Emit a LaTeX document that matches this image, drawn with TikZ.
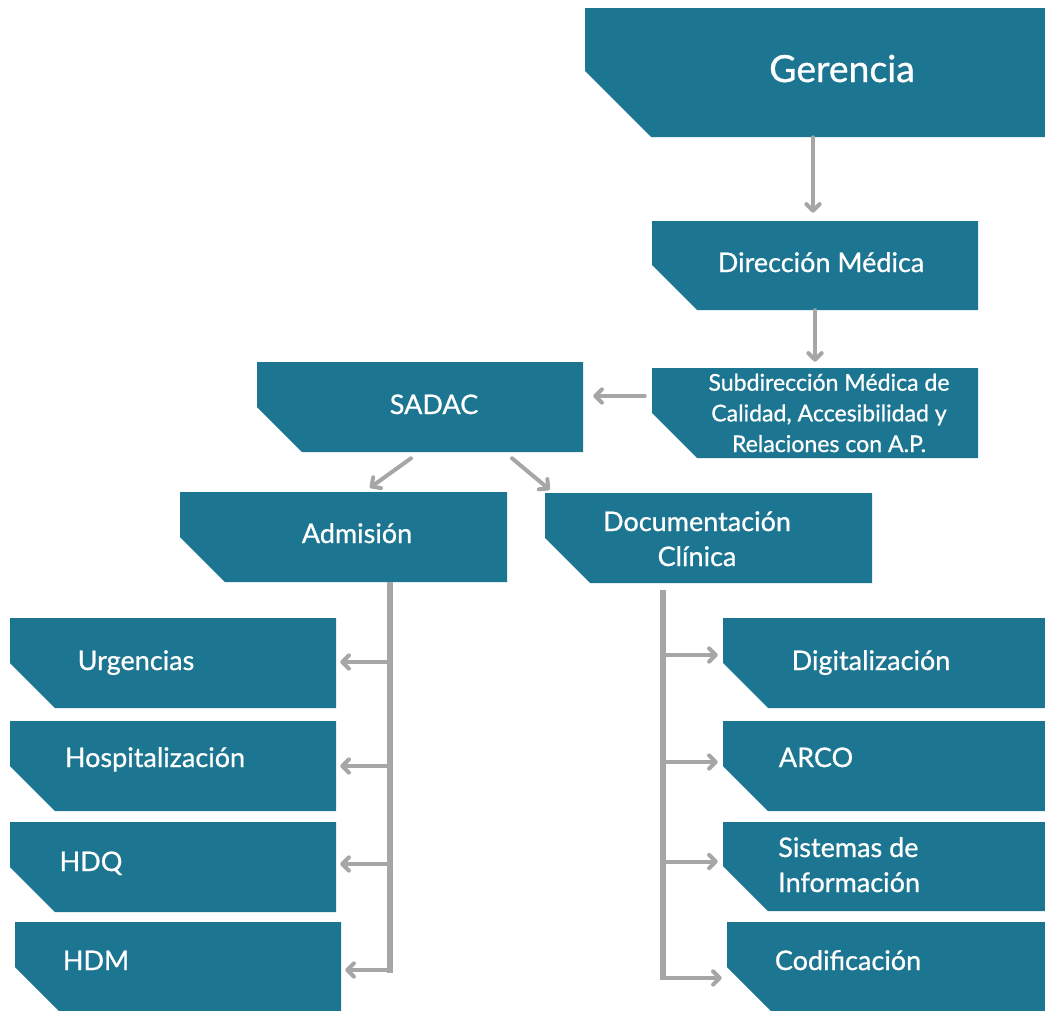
\documentclass[tikz,border=0pt]{standalone}
\usepackage{fontspec}
\setmainfont{Lato}[BoldFont=Lato, BoldFeatures={FakeBold=0.8}]
\usetikzlibrary{arrows.meta,calc,fit}
\definecolor{boxc}{HTML}{1C7591}
\definecolor{linec}{HTML}{A6A6A6}
\newcommand\orgbox[6]{%
  \fill[boxc] (#2,#3) -- (#4,#3) -- (#4,#5) -- ({#2+#6},#5) -- (#2,{#5-#6}) -- cycle;
  \node[fit={(#2,#3)(#4,#5)}, inner sep=0pt] (#1) {};}
\begin{document}
\begin{tikzpicture}[x=0.75pt,y=-0.75pt,
  lbl/.style={text=white, anchor=base, inner sep=0pt, font=\bfseries\fontsize{20.25}{26}\selectfont},
  arr/.style={draw=linec, line width=3pt, line cap=round, -{Straight Barb[length=5pt,width=10pt,line cap=round,round]}},
  trunk/.style={draw=linec, line width=5pt}]
\useasboundingbox (0,0) rectangle (1045,1010);
\clip (0,0) rectangle (1045,1010);
% boxes
\orgbox{ger}{585}{8}{1045}{137}{66}
\orgbox{dir}{652}{221}{978}{310}{45}
\orgbox{sub}{652}{368}{978}{458}{45}
\orgbox{sadac}{257}{362}{583}{452}{45}
\orgbox{adm}{180}{492}{507}{582}{45}
\orgbox{doc}{545}{493}{872}{583}{45}
\orgbox{urg}{10}{618}{336}{708}{45}
\orgbox{hos}{10}{721}{336}{811}{45}
\orgbox{hdq}{10}{822}{336}{912}{45}
\orgbox{hdm}{15}{922}{341}{1012}{45}
\orgbox{dig}{723}{618}{1045}{708}{45}
\orgbox{arco}{723}{721}{1045}{811}{45}
\orgbox{sis}{723}{822}{1045}{911}{45}
\orgbox{cod}{727}{922}{1045}{1012}{45}
% labels
\node[lbl, font=\bfseries\fontsize{28}{34}\selectfont] at (842,82) {Gerencia};
\node[lbl] at (821,272) {Dirección Médica};
\node[lbl, align=center, font=\bfseries\fontsize{17.3}{23}\selectfont] at (829,452) {Subdirección Médica de\\Calidad, Accesibilidad y\\Relaciones con A.P.};
\node[lbl] at (434,414) {SADAC};
\node[lbl] at (357,543) {Admisión};
\node[lbl, align=center, font=\bfseries\fontsize{20.25}{26.25}\selectfont] at (697,566) {Documentación\\Clínica};
\node[lbl] at (136,670) {Urgencias};
\node[lbl] at (155,767) {Hospitalización};
\node[lbl] at (91,871) {HDQ};
\node[lbl] at (96,970) {HDM};
\node[lbl] at (871,670) {Digitalización};
\node[lbl] at (816,767) {ARCO};
\node[lbl, align=left, anchor=base west, font=\bfseries\fontsize{20.25}{26.25}\selectfont] at (778,892) {Sistemas de\\Información};
\node[lbl] at (848,970) {Codificación};
% connectors
\draw[arr] ($(ger.south)+(-2,0)$) -- ($(dir.north)+(-2,-8)$);
\draw[arr] (dir.south) -- ($(sub.north)+(0,-6)$);
\draw[arr] ($(sub.west)+(-7,-17)$) -- ($(sadac.east)+(10,-11)$);
\draw[arr] ($(sadac.south)+(-9,6)$) -- ($(adm.north)+(26.5,-4)$);
\draw[arr] ($(sadac.south)+(92,6)$) -- ($(doc.north west)+(5,-3)$);
\coordinate (ta1) at ($(adm.south)+(46.5,0)$);
\coordinate (ta2) at ($(ta1)+(0,391)$);
\coordinate (tb1) at ($(doc.south)+(-45.5,7)$);
\coordinate (tb2) at ($(tb1)+(0,390)$);
\draw[trunk] (ta1) -- (ta2);
\draw[trunk] (tb1) -- (tb2);
\draw[arr] ($(ta1 |- urg.east)+(0,-1)$) -- ($(urg.east)+(4,-1)$);
\draw[arr] ($(ta1 |- hos.east)$) -- ($(hos.east)+(4,0)$);
\draw[arr] ($(ta1 |- hdq.east)+(0,-3)$) -- ($(hdq.east)+(4,-3)$);
\draw[arr] ($(ta1 |- hdm.east)+(0,3)$) -- ($(hdm.east)+(4,3)$);
\draw[arr] ($(tb1 |- dig.west)+(0,-8)$) -- ($(dig.west)+(-5,-8)$);
\draw[arr] ($(tb1 |- arco.west)+(0,-4)$) -- ($(arco.west)+(-5,-4)$);
\draw[arr] ($(tb1 |- sis.west)+(0,-5)$) -- ($(sis.west)+(-5,-5)$);
\draw[arr] ($(tb1 |- cod.west)+(0,11)$) -- ($(cod.west)+(-5,11)$);
\end{tikzpicture}
\end{document}
